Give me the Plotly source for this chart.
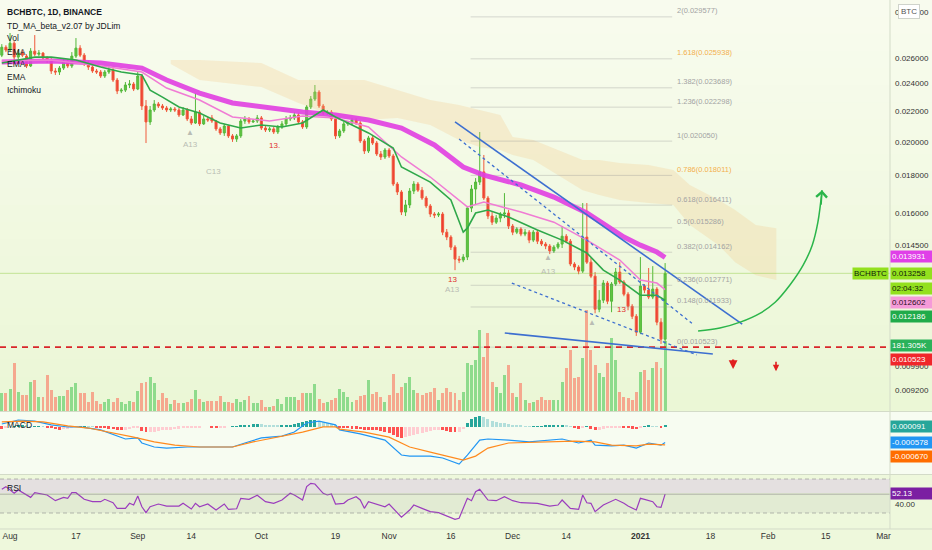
import numpy as np
import pandas as pd
import plotly.graph_objects as go

# ---------------- data ----------------
days = pd.date_range("2020-07-30", periods=162, freq="D")

opens = [0.02624, 0.02690, 0.02666, 0.02724, 0.02608, 0.02641, 0.02616, 0.02536, 0.02657, 0.02632,
         0.02641, 0.02600, 0.02584, 0.02497, 0.02489, 0.02520, 0.02576, 0.02536, 0.02616, 0.02682,
         0.02624, 0.02560, 0.02528, 0.02497, 0.02489, 0.02458, 0.02489, 0.02505, 0.02427, 0.02345,
         0.02352, 0.02390, 0.02397, 0.02360, 0.02458, 0.02238, 0.02129, 0.02210, 0.02252, 0.02238,
         0.02224, 0.02210, 0.02217, 0.02210, 0.02176, 0.02210, 0.02149, 0.02122, 0.02196, 0.02116,
         0.02149, 0.02156, 0.02135, 0.02083, 0.02057, 0.02102, 0.02038, 0.02018, 0.02038, 0.02135,
         0.02149, 0.02129, 0.02135, 0.02156, 0.02089, 0.02076, 0.02083, 0.02063, 0.02096, 0.02116,
         0.02149, 0.02156, 0.02176, 0.02129, 0.02096, 0.02231, 0.02287, 0.02338, 0.02238, 0.02190,
         0.02196, 0.02149, 0.02038, 0.02070, 0.02116, 0.02122, 0.02142, 0.02122, 0.02006, 0.01944,
         0.02025, 0.01993, 0.01926, 0.01908, 0.01950, 0.01914, 0.01753, 0.01710, 0.01606, 0.01642,
         0.01715, 0.01753, 0.01720, 0.01678, 0.01637, 0.01596, 0.01591, 0.01596, 0.01508, 0.01485,
         0.01439, 0.01386, 0.01382, 0.01395, 0.01626, 0.01726, 0.01764, 0.01821, 0.01678, 0.01586,
         0.01556, 0.01576, 0.01596, 0.01601, 0.01537, 0.01508, 0.01523, 0.01499, 0.01508, 0.01471,
         0.01508, 0.01466, 0.01453, 0.01444, 0.01422, 0.01439, 0.01453, 0.01489, 0.01466, 0.01365,
         0.01352, 0.01335, 0.01485, 0.01373, 0.01314, 0.01185, 0.01219, 0.01286, 0.01215, 0.01282,
         0.01331, 0.01290, 0.01242, 0.01196, 0.01159, 0.01103, 0.01274, 0.01258, 0.01231, 0.01262,
         0.01138, 0.01079]
highs = [0.02716, 0.02707, 0.02812, 0.02741, 0.02666, 0.02666, 0.02632, 0.02682, 0.02794, 0.02666,
         0.02649, 0.02616, 0.02600, 0.02520, 0.02536, 0.02600, 0.02592, 0.02649, 0.02768, 0.02707,
         0.02641, 0.02576, 0.02544, 0.02513, 0.02505, 0.02505, 0.02536, 0.02520, 0.02443, 0.02367,
         0.02412, 0.02427, 0.02412, 0.02489, 0.02474, 0.02280, 0.02238, 0.02280, 0.02266, 0.02252,
         0.02238, 0.02231, 0.02231, 0.02224, 0.02231, 0.02224, 0.02169, 0.02330, 0.02210, 0.02169,
         0.02162, 0.02176, 0.02142, 0.02096, 0.02116, 0.02109, 0.02050, 0.02050, 0.02149, 0.02169,
         0.02162, 0.02149, 0.02176, 0.02169, 0.02102, 0.02096, 0.02096, 0.02109, 0.02135, 0.02169,
         0.02176, 0.02196, 0.02190, 0.02142, 0.02245, 0.02309, 0.02390, 0.02352, 0.02252, 0.02210,
         0.02210, 0.02162, 0.02083, 0.02129, 0.02135, 0.02156, 0.02156, 0.02135, 0.02018, 0.02038,
         0.02044, 0.02006, 0.01944, 0.01962, 0.01962, 0.01926, 0.01764, 0.01720, 0.01668, 0.01731,
         0.01769, 0.01764, 0.01737, 0.01689, 0.01647, 0.01606, 0.01606, 0.01606, 0.01523, 0.01494,
         0.01448, 0.01400, 0.01408, 0.01637, 0.01748, 0.01786, 0.02063, 0.01920, 0.01689, 0.01606,
         0.01591, 0.01606, 0.01704, 0.01616, 0.01547, 0.01532, 0.01532, 0.01523, 0.01518, 0.01518,
         0.01518, 0.01476, 0.01462, 0.01453, 0.01448, 0.01462, 0.01537, 0.01499, 0.01476, 0.01373,
         0.01360, 0.01652, 0.01652, 0.01391, 0.01331, 0.01258, 0.01298, 0.01294, 0.01290, 0.01348,
         0.01373, 0.01298, 0.01250, 0.01204, 0.01167, 0.01395, 0.01282, 0.01348, 0.01356, 0.01270,
         0.01152, 0.01369]
lows = [0.02608, 0.02649, 0.02649, 0.02584, 0.02592, 0.02608, 0.02520, 0.02528, 0.02616, 0.02616,
        0.02584, 0.02560, 0.02474, 0.02466, 0.02466, 0.02505, 0.02520, 0.02520, 0.02600, 0.02608,
        0.02536, 0.02505, 0.02482, 0.02474, 0.02443, 0.02443, 0.02474, 0.02412, 0.02323, 0.02330,
        0.02338, 0.02367, 0.02345, 0.02352, 0.02210, 0.01993, 0.02109, 0.02196, 0.02224, 0.02210,
        0.02196, 0.02196, 0.02196, 0.02162, 0.02169, 0.02135, 0.02109, 0.02116, 0.02102, 0.02109,
        0.02129, 0.02122, 0.02070, 0.02044, 0.02038, 0.02025, 0.02000, 0.02000, 0.02025, 0.02116,
        0.02116, 0.02122, 0.02122, 0.02076, 0.02063, 0.02063, 0.02050, 0.02050, 0.02083, 0.02102,
        0.02135, 0.02142, 0.02116, 0.02083, 0.02083, 0.02217, 0.02273, 0.02224, 0.02176, 0.02176,
        0.02135, 0.02018, 0.02025, 0.02057, 0.02102, 0.02109, 0.02109, 0.01993, 0.01926, 0.01932,
        0.01981, 0.01914, 0.01890, 0.01896, 0.01902, 0.01742, 0.01694, 0.01591, 0.01586, 0.01626,
        0.01699, 0.01710, 0.01668, 0.01626, 0.01581, 0.01576, 0.01581, 0.01494, 0.01471, 0.01426,
        0.01339, 0.01369, 0.01373, 0.01382, 0.01606, 0.01642, 0.01748, 0.01668, 0.01571, 0.01542,
        0.01547, 0.01556, 0.01576, 0.01523, 0.01494, 0.01499, 0.01489, 0.01489, 0.01457, 0.01462,
        0.01453, 0.01444, 0.01430, 0.01408, 0.01413, 0.01430, 0.01435, 0.01457, 0.01356, 0.01339,
        0.01322, 0.01327, 0.01365, 0.01306, 0.01170, 0.01174, 0.01208, 0.01204, 0.01174, 0.01274,
        0.01282, 0.01234, 0.01181, 0.01149, 0.01090, 0.01096, 0.01246, 0.01223, 0.01223, 0.01127,
        0.01063, 0.01063]
closes = [0.02690, 0.02666, 0.02724, 0.02608, 0.02641, 0.02624, 0.02536, 0.02657, 0.02632, 0.02641,
          0.02600, 0.02584, 0.02497, 0.02489, 0.02520, 0.02576, 0.02536, 0.02616, 0.02682, 0.02624,
          0.02560, 0.02528, 0.02497, 0.02489, 0.02458, 0.02489, 0.02505, 0.02427, 0.02345, 0.02352,
          0.02390, 0.02397, 0.02360, 0.02458, 0.02238, 0.02129, 0.02210, 0.02252, 0.02238, 0.02224,
          0.02210, 0.02217, 0.02210, 0.02176, 0.02210, 0.02149, 0.02122, 0.02196, 0.02116, 0.02149,
          0.02142, 0.02135, 0.02083, 0.02057, 0.02102, 0.02038, 0.02018, 0.02038, 0.02135, 0.02149,
          0.02129, 0.02135, 0.02156, 0.02089, 0.02076, 0.02083, 0.02063, 0.02096, 0.02116, 0.02149,
          0.02156, 0.02176, 0.02129, 0.02096, 0.02231, 0.02287, 0.02338, 0.02238, 0.02190, 0.02196,
          0.02149, 0.02038, 0.02070, 0.02116, 0.02122, 0.02142, 0.02122, 0.02006, 0.01944, 0.02025,
          0.01993, 0.01926, 0.01908, 0.01950, 0.01914, 0.01753, 0.01710, 0.01606, 0.01642, 0.01715,
          0.01753, 0.01720, 0.01678, 0.01637, 0.01596, 0.01591, 0.01596, 0.01508, 0.01485, 0.01439,
          0.01386, 0.01382, 0.01395, 0.01626, 0.01726, 0.01764, 0.01821, 0.01678, 0.01586, 0.01556,
          0.01576, 0.01596, 0.01601, 0.01537, 0.01508, 0.01523, 0.01499, 0.01508, 0.01471, 0.01508,
          0.01466, 0.01453, 0.01444, 0.01422, 0.01439, 0.01453, 0.01489, 0.01466, 0.01365, 0.01352,
          0.01335, 0.01485, 0.01373, 0.01314, 0.01185, 0.01219, 0.01286, 0.01215, 0.01282, 0.01331,
          0.01290, 0.01242, 0.01196, 0.01159, 0.01103, 0.01274, 0.01258, 0.01231, 0.01262, 0.01138,
          0.01079, 0.013258]

# volume in thousands
volume_k = [47, 47, 57, 124, 49, 41, 41, 75, 80,
            36, 36, 93, 54, 36, 39, 39, 54, 62, 73,
            47, 47, 23, 49, 26, 18, 23, 31, 23, 34,
            23, 18, 26, 23, 52, 73, 75, 88, 73, 28,
            47, 34, 18, 28, 21, 21, 23, 31, 54, 31,
            23, 26, 26, 26, 39, 23, 23, 21, 31, 23,
            28, 39, 21, 21, 28, 10, 10, 13, 31,
            18, 36, 36, 36, 28, 47, 47, 47, 70, 31,
            21, 23, 28, 34, 57,
            49, 36, 23, 28, 39, 41, 80, 44, 49,
            36, 23, 41, 96, 47, 62, 73, 88, 54, 47,
            41, 47, 49, 60, 28, 47, 60, 49, 47, 28,
            49, 124, 119, 132, 210, 140, 202, 75, 62, 47,
            93, 119, 47, 36, 73, 28, 21, 23, 28, 36,
            28, 28, 28, 28, 75, 111, 158, 85, 88,
            137, 262, 158, 119, 98, 88, 124, 189, 132, 49,
            36, 34, 28, 49, 101, 106, 80, 111, 127, 111,
            181.305]

ema_slow_dates = ["2020-07-30", "2020-08-11", "2020-08-23", "2020-09-02", "2020-09-08", "2020-09-16",
                  "2020-09-24", "2020-10-03", "2020-10-11", "2020-10-19", "2020-10-27", "2020-11-04",
                  "2020-11-12", "2020-11-19", "2020-11-24", "2020-12-03", "2020-12-11", "2020-12-19",
                  "2020-12-28", "2021-01-01", "2021-01-05", "2021-01-07"]
ema_slow = [0.02568, 0.02576, 0.02560, 0.02520, 0.02427, 0.02330, 0.02259, 0.02224, 0.02196, 0.02176,
            0.02142, 0.02089, 0.01981, 0.01849, 0.01803, 0.01748, 0.01683, 0.01601, 0.01485, 0.01448,
            0.01417, 0.013931]

ema_fast_dates = ["2020-07-30", "2020-08-11", "2020-08-25", "2020-09-02", "2020-09-08", "2020-09-16",
                  "2020-09-24", "2020-10-03", "2020-10-11", "2020-10-19", "2020-10-27", "2020-11-04",
                  "2020-11-11", "2020-11-16", "2020-11-20", "2020-11-24", "2020-12-03", "2020-12-11",
                  "2020-12-19", "2020-12-27", "2021-01-01", "2021-01-05", "2021-01-07"]
ema_fast = [0.02576, 0.02584, 0.02528, 0.02489, 0.02367, 0.02280, 0.02162, 0.02135, 0.02169, 0.02156,
            0.02096, 0.01908, 0.01792, 0.01704, 0.01632, 0.01657, 0.01606, 0.01556, 0.01471, 0.01382,
            0.01298, 0.01286, 0.012602]

td_dates = ["2020-07-30", "2020-08-07", "2020-08-11", "2020-08-17", "2020-08-23", "2020-08-28",
            "2020-09-02", "2020-09-04", "2020-09-07", "2020-09-11", "2020-09-16", "2020-09-21",
            "2020-09-26", "2020-10-01", "2020-10-06", "2020-10-11", "2020-10-16", "2020-10-19",
            "2020-10-27", "2020-11-02", "2020-11-04", "2020-11-11", "2020-11-16", "2020-11-19",
            "2020-11-20", "2020-11-22", "2020-11-25", "2020-11-30", "2020-12-07", "2020-12-13",
            "2020-12-19", "2020-12-23", "2020-12-27", "2021-01-01", "2021-01-05", "2021-01-07"]
td_line = [0.02560, 0.02608, 0.02608, 0.02584, 0.02528, 0.02489, 0.02466, 0.02352, 0.02301, 0.02231,
           0.02190, 0.02122, 0.02089, 0.02109, 0.02096, 0.02122, 0.02210, 0.02162, 0.02057, 0.01962,
           0.01849, 0.01764, 0.01668, 0.01508, 0.01527, 0.01601, 0.01616, 0.01581, 0.01518, 0.01471,
           0.01413, 0.01339, 0.01298, 0.01238, 0.01238, 0.012186]

cloud_dates = ["2020-09-09", "2020-09-16", "2020-10-01", "2020-10-10", "2020-10-18", "2020-10-26",
               "2020-11-03", "2020-11-11", "2020-11-18", "2020-11-23", "2020-11-28", "2020-12-01",
               "2020-12-06", "2020-12-12", "2020-12-18", "2020-12-22", "2020-12-27", "2021-01-03",
               "2021-01-09", "2021-01-13", "2021-01-20", "2021-01-24", "2021-01-29", "2021-02-03"]
cloud_top = [0.02584, 0.02584, 0.02560, 0.02427, 0.02427, 0.02427, 0.02352, 0.02280, 0.02245, 0.02210,
             0.02176, 0.02031, 0.02012, 0.01950, 0.01890, 0.01890, 0.01873, 0.01861, 0.01832, 0.01748,
             0.01668, 0.01616, 0.01542, 0.01527]
cloud_bottom = [0.02552, 0.02427, 0.02375, 0.02259, 0.02176, 0.02142, 0.02156, 0.02109, 0.02012, 0.01968,
                0.01950, 0.01920, 0.01890, 0.01803, 0.01720, 0.01694, 0.01668, 0.01652, 0.01642, 0.01542,
                0.01448, 0.01373, 0.01318, 0.01298]

fib_levels = ["2", "1.618", "1.382", "1.236", "1", "0.786", "0.618", "0.5", "0.382", "0.236", "0.148", "0"]
fib_prices = [0.029577, 0.025938, 0.023689, 0.022298, 0.020050, 0.018011, 0.016411, 0.015286,
              0.014162, 0.012771, 0.011933, 0.010523]

macd_dates = ["2020-07-30", "2020-08-03", "2020-08-07", "2020-08-11", "2020-08-15", "2020-08-18",
              "2020-08-23", "2020-08-25", "2020-08-29", "2020-09-01", "2020-09-02", "2020-09-05",
              "2020-09-08", "2020-09-13", "2020-09-18", "2020-09-24", "2020-09-27", "2020-10-01",
              "2020-10-06", "2020-10-09", "2020-10-12", "2020-10-15", "2020-10-19", "2020-10-20",
              "2020-10-25", "2020-10-31", "2020-11-04", "2020-11-06", "2020-11-11", "2020-11-14",
              "2020-11-18", "2020-11-20", "2020-11-23", "2020-11-25", "2020-11-30", "2020-12-05",
              "2020-12-13", "2020-12-17", "2020-12-20", "2020-12-21", "2020-12-25", "2020-12-28",
              "2020-12-31", "2021-01-03", "2021-01-06", "2021-01-07"]
macd_line = [0.00011, 0.00026, 0.00022, 0.00008, 0.0, 0.0, -0.00011, -0.00022, -0.00045, -0.00041,
             -0.00060, -0.00075, -0.00079, -0.00075, -0.00075, -0.00075, -0.00060, -0.00041, -0.00034, -0.00019,
             0.00015, 0.00022, 0.00008, -0.00011, -0.00026, -0.00049, -0.00105, -0.00109, -0.00109, -0.00116,
             -0.00139, -0.00105, -0.00049, -0.00045, -0.00049, -0.00056, -0.00045, -0.00060, -0.00049, -0.00068,
             -0.00071, -0.00068, -0.00079, -0.00060, -0.00068, -0.000578]

signal_dates = ["2020-07-30", "2020-08-04", "2020-08-09", "2020-08-15", "2020-08-20", "2020-08-25",
                "2020-08-31", "2020-09-05", "2020-09-10", "2020-09-16", "2020-09-24", "2020-09-29",
                "2020-10-04", "2020-10-11", "2020-10-16", "2020-10-19", "2020-10-20", "2020-10-26",
                "2020-11-01", "2020-11-06", "2020-11-11", "2020-11-19", "2020-11-22", "2020-11-25",
                "2020-11-30", "2020-12-08", "2020-12-16", "2020-12-21", "2020-12-25", "2020-12-31",
                "2021-01-03", "2021-01-07"]
signal_line = [0.00019, 0.00022, 0.00019, 0.00004, -0.00004, -0.00019, -0.00038, -0.00056, -0.00068, -0.00075,
               -0.00075, -0.00056, -0.00041, -0.00019, 0.0, 0.0, -0.00008, -0.00019, -0.00038, -0.00075,
               -0.00094, -0.00124, -0.00109, -0.00079, -0.00060, -0.00056, -0.00053, -0.00056, -0.00068, -0.00071,
               -0.00064, -0.00067]

# daily histogram, units of 1e-5
macd_hist_e5 = [-6, -3, 0, 2, 4, 5, 4, 3, 3, 3,
                1, -2, -5, -8, -10, -9, -6, -3, 0, 2,
                3, 2, 1, -2, -4, -5, -7, -9, -11, -12,
                -12, -9, -5, -2, -14, -19, -18, -17, -15, -13,
                -12, -10, -8, -6, -4, -3, -2, -1, -1, 0,
                0, -1, -2, -2, -1, 0, 1, 2, 4, 6,
                8, 10, 12, 11, 9, 7, 5, 4, 5, 7,
                9, 11, 14, 18, 22, 25, 26, 24, 20, 15,
                10, 4, -3, -4, -5, -6, -7, -9, -10, -11,
                -12, -13, -14, -18, -24, -30, -36, -40, -37, -33,
                -29, -25, -21, -17, -15, -13, -11, -12, -15, -17,
                -19, -19, -8, 15, 28, 38, 42, 36, 30, 24,
                20, 16, 14, 11, 8, 6, 4, 2, 1, 2,
                3, 3, 4, 5, 6, 8, 9, 7, 3, -2,
                -7, -3, 2, -6, -12, -10, -7, -4, -3, -2,
                -1, -2, -4, -6, -8, -4, 1, 4, 3, 1,
                -1, 9.1]

rsi_dates = ["2020-07-30", "2020-07-31", "2020-08-02", "2020-08-03", "2020-08-06", "2020-08-07", "2020-08-10",
             "2020-08-12", "2020-08-14", "2020-08-15", "2020-08-16", "2020-08-17", "2020-08-19", "2020-08-21",
             "2020-08-23", "2020-08-24", "2020-08-26", "2020-08-27", "2020-08-29", "2020-08-30", "2020-08-31",
             "2020-09-01", "2020-09-02", "2020-09-03", "2020-09-04", "2020-09-06", "2020-09-08", "2020-09-11",
             "2020-09-12", "2020-09-14", "2020-09-15", "2020-09-16", "2020-09-18", "2020-09-20", "2020-09-22",
             "2020-09-23", "2020-09-25", "2020-09-26", "2020-09-28", "2020-09-30", "2020-10-02", "2020-10-04",
             "2020-10-06", "2020-10-08", "2020-10-09", "2020-10-11", "2020-10-12", "2020-10-13", "2020-10-14",
             "2020-10-16", "2020-10-17", "2020-10-18", "2020-10-19", "2020-10-20", "2020-10-21", "2020-10-22",
             "2020-10-24", "2020-10-25", "2020-10-26", "2020-10-27", "2020-10-29", "2020-10-31", "2020-11-01",
             "2020-11-03", "2020-11-04", "2020-11-06", "2020-11-07", "2020-11-09", "2020-11-11", "2020-11-13",
             "2020-11-15", "2020-11-17", "2020-11-18", "2020-11-20", "2020-11-21", "2020-11-22", "2020-11-23",
             "2020-11-24", "2020-11-25", "2020-11-27", "2020-11-29", "2020-12-01", "2020-12-03", "2020-12-07",
             "2020-12-10", "2020-12-12", "2020-12-13", "2020-12-15", "2020-12-17", "2020-12-18", "2020-12-19",
             "2020-12-20", "2020-12-21", "2020-12-23", "2020-12-24", "2020-12-26", "2020-12-28", "2020-12-29",
             "2020-12-31", "2021-01-01", "2021-01-02", "2021-01-04", "2021-01-05", "2021-01-06", "2021-01-07"]
rsi_vals = [57.9, 61, 53.2, 57.1, 48.4, 53.9, 51.2,
            44.5, 48.4, 47.3, 53.9, 53.9, 46.1, 43.3,
            43.3, 46.1, 42.1, 35.5, 35.5, 41.4, 39.4,
            50, 37.4, 30.4, 37.4, 40.6, 38.2, 38.2,
            41.4, 34.7, 41.4, 37.4, 40.6, 33.5, 40.6,
            34.3, 35, 47.3, 46.1, 50.8, 43.3, 41.4,
            45.3, 53.2, 51.2, 45.3, 61, 64.9, 64.1,
            53.2, 51.2, 52.4, 40.6, 41.4, 41.4, 45.3,
            49.2, 45.3, 35.5, 43.3, 40.6, 37.4, 40.6,
            30.4, 25, 33.5, 39.4, 35.5, 31.6, 30.4,
            26.5, 22.6, 23.8, 47.3, 44.5, 55.1, 57.9,
            51.2, 45.3, 44.5, 49.2, 44.5, 42.1, 41.4,
            38.2, 39.4, 45.3, 35.5, 34.3, 51.2, 42.1,
            41.4, 31.6, 39.4, 41.4, 46.1, 41.4, 38.2,
            33.5, 47.3, 46.1, 43.3, 37.4, 36.6, 52.13]

# drawings
wedge_top_dates = ["2020-11-17", "2021-01-25 17:00"]
wedge_top = [0.02129, 0.01131]
wedge_bottom_dates = ["2020-11-29 02:00", "2021-01-18 14:00"]
wedge_bottom = [0.01100, 0.01030]
channel_top_dates = ["2020-11-18", "2021-01-13 12:00"]
channel_top = [0.02018, 0.01134]
channel_bottom_dates = ["2020-11-30 19:00", "2021-01-14 17:00"]
channel_bottom = [0.01286, 0.01027]
rebound_dates = ["2021-01-15", "2021-01-20 07:00", "2021-01-25 05:00", "2021-01-30", "2021-02-02 17:00",
                 "2021-02-06 07:00", "2021-02-09 12:00", "2021-02-11 17:00", "2021-02-13 02:00", "2021-02-14 02:00"]
rebound = [0.01107, 0.01117, 0.01138, 0.01170, 0.01211, 0.01278, 0.01360, 0.01448, 0.01556, 0.01720]
support = 0.010523

# ---------------- layout helpers ----------------
FONT = "Liberation Sans, Arial, sans-serif"
W, H = 932, 550
PLOT_H = 529
X_END = 890 / W
X_RANGE = ["2020-07-29 13:30", "2021-03-02 14:00"]
P_LO, P_HI = 0.008618, 0.03118


def py(ypx):
    return 1 - ypx / PLOT_H


def px(xpx):
    return xpx / W


lg = np.log10

fig = go.Figure()

# volume (base axis, drawn under the candles)
vol_colors = ["#8edb8c" if c >= o else "#f5a88e" for o, c in zip(opens, closes)]
fig.add_trace(go.Bar(x=days, y=volume_k, marker_color=vol_colors, marker_line_width=0,
                     width=0.72 * 86400000, xaxis="x", yaxis="y", hoverinfo="skip"))

# candles
fig.add_trace(go.Candlestick(
    x=days, open=opens, high=highs, low=lows, close=closes, xaxis="x", yaxis="y2",
    increasing=dict(line=dict(color="#52b83a", width=1), fillcolor="#62c542"),
    decreasing=dict(line=dict(color="#f05a3c", width=1), fillcolor="#ee3a33"),
    whiskerwidth=0, hoverinfo="skip"))

# ichimoku cloud
fig.add_trace(go.Scatter(x=cloud_dates, y=cloud_top, mode="lines", line=dict(width=0),
                         xaxis="x", yaxis="y2", hoverinfo="skip"))
fig.add_trace(go.Scatter(x=cloud_dates, y=cloud_bottom, mode="lines", line=dict(width=0),
                         fill="tonexty", fillcolor="rgba(245,196,130,0.26)",
                         xaxis="x", yaxis="y2", hoverinfo="skip"))

# fib lines
fx, fy = [], []
for p in fib_prices:
    fx += ["2020-11-20 19:00", "2021-01-08 17:00", None]
    fy += [p, p, None]
fig.add_trace(go.Scatter(x=fx, y=fy, mode="lines", line=dict(color="rgba(150,150,150,0.35)", width=1),
                         xaxis="x", yaxis="y2", hoverinfo="skip"))

# current price line and support
fig.add_trace(go.Scatter(x=X_RANGE, y=[closes[-1]] * 2, mode="lines",
                         line=dict(color="rgba(140,205,60,0.45)", width=1), xaxis="x", yaxis="y2",
                         hoverinfo="skip"))
fig.add_trace(go.Scatter(x=X_RANGE, y=[support] * 2, mode="lines",
                         line=dict(color="#d9262a", width=1.8, dash="6px,5px"), xaxis="x", yaxis="y2",
                         hoverinfo="skip"))

# moving averages
fig.add_trace(go.Scatter(x=ema_slow_dates, y=ema_slow, mode="lines", line=dict(color="#e23fe2", width=5),
                         opacity=0.9, xaxis="x", yaxis="y2", hoverinfo="skip"))
fig.add_trace(go.Scatter(x=ema_fast_dates, y=ema_fast, mode="lines", line=dict(color="#f07cd4", width=1.5),
                         xaxis="x", yaxis="y2", hoverinfo="skip"))
fig.add_trace(go.Scatter(x=td_dates, y=td_line, mode="lines", line=dict(color="#2fa84a", width=1.6),
                         xaxis="x", yaxis="y2", hoverinfo="skip"))

# wedge / channel drawings
for dx, dy, dash in [(wedge_top_dates, wedge_top, "solid"), (wedge_bottom_dates, wedge_bottom, "solid"),
                     (channel_top_dates, channel_top, "dot"), (channel_bottom_dates, channel_bottom, "dot")]:
    fig.add_trace(go.Scatter(x=dx, y=dy, mode="lines",
                             line=dict(color="#3d6fd0", width=1.6 if dash == "solid" else 1.3, dash=dash),
                             xaxis="x", yaxis="y2", hoverinfo="skip"))
fig.add_trace(go.Scatter(x=rebound_dates, y=rebound, mode="lines", line=dict(color="#2bb54a", width=1.5, shape="spline"),
                         xaxis="x", yaxis="y2", hoverinfo="skip"))

# MACD
hist = [v * 1e-5 for v in macd_hist_e5]
hist_colors = []
prev = 0
for v in hist:
    if v >= 0:
        hist_colors.append("#26a69a" if v >= prev else "#b2dfdb")
    else:
        hist_colors.append("#ff5252" if v < prev else "#ffcdd2")
    prev = v
fig.add_trace(go.Bar(x=days, y=hist, marker_color=hist_colors, marker_line_width=0, width=0.72 * 86400000,
                     xaxis="x", yaxis="y3", hoverinfo="skip"))
fig.add_trace(go.Scatter(x=macd_dates, y=macd_line, mode="lines", line=dict(color="#2196f3", width=1.2),
                         xaxis="x", yaxis="y3", hoverinfo="skip"))
fig.add_trace(go.Scatter(x=signal_dates, y=signal_line, mode="lines", line=dict(color="#ff8a1e", width=1.2),
                         xaxis="x", yaxis="y3", hoverinfo="skip"))

# RSI
fig.add_trace(go.Scatter(x=rsi_dates, y=rsi_vals, mode="lines", line=dict(color="#9b3dbd", width=1.2),
                         xaxis="x", yaxis="y4", hoverinfo="skip"))

# ---------------- backgrounds and separators ----------------
shapes = []
top_rgb = np.array([249, 252, 239])
bot_rgb = np.array([235, 247, 214])
n_bands = 24
for i in range(n_bands):
    c = top_rgb + (bot_rgb - top_rgb) * (i + 0.5) / n_bands
    shapes.append(dict(type="rect", xref="paper", yref="paper", x0=0, x1=1,
                       y0=py(411 * (i + 1) / n_bands), y1=py(411 * i / n_bands) + 0.001,
                       fillcolor="rgb(%d,%d,%d)" % tuple(c.astype(int)), line_width=0, layer="below"))
shapes.append(dict(type="rect", xref="paper", yref="paper", x0=0, x1=1, y0=py(474), y1=py(411),
                   fillcolor="#f7fcf1", line_width=0, layer="below"))
shapes.append(dict(type="rect", xref="paper", yref="paper", x0=0, x1=1, y0=0, y1=py(474),
                   fillcolor="#eef8dc", line_width=0, layer="below"))
shapes.append(dict(type="rect", xref="paper", yref="y4", x0=0, x1=X_END, y0=53.5, y1=70,
                   fillcolor="rgba(205,170,235,0.30)", line_width=0, layer="below"))
shapes.append(dict(type="rect", xref="paper", yref="y4", x0=0, x1=X_END, y0=30, y1=53.5,
                   fillcolor="rgba(170,170,170,0.16)", line_width=0, layer="below"))
for lvl in (30, 70):
    shapes.append(dict(type="line", xref="paper", yref="y4", x0=0, x1=X_END, y0=lvl, y1=lvl,
                       line=dict(color="rgba(140,140,140,0.6)", width=1, dash="4px,3px")))
shapes.append(dict(type="line", xref="paper", yref="y4", x0=0, x1=X_END, y0=52.13, y1=52.13,
                   line=dict(color="rgba(130,130,130,0.55)", width=1)))
for ypx in (411.5, 474.5, 529):
    shapes.append(dict(type="line", xref="paper", yref="paper", x0=0, x1=1, y0=py(ypx), y1=py(ypx),
                       line=dict(color="#d3dbc8", width=1)))
shapes.append(dict(type="line", xref="paper", yref="paper", x0=X_END, x1=X_END, y0=0, y1=1,
                   line=dict(color="#d3dbc8", width=1)))

# ---------------- annotations ----------------
ann = []
legend_lines = [("<b>BCHBTC, 1D, BINANCE</b>", 12), ("TD_MA_beta_v2.07 by JDLim", 26), ("Vol", 38),
                ("EMA", 52), ("EMA", 64), ("EMA", 77), ("Ichimoku", 90)]
for txt, ypx in legend_lines:
    ann.append(dict(text=txt, x=px(5), y=py(ypx), xref="paper", yref="paper", xanchor="left",
                    yanchor="middle", showarrow=False, font=dict(family=FONT, size=8.5, color="#131722")))
ann.append(dict(text="MACD", x=px(5), y=py(425), xref="paper", yref="paper", xanchor="left",
                yanchor="middle", showarrow=False, font=dict(family=FONT, size=8.5, color="#131722")))
ann.append(dict(text="RSI", x=px(5), y=py(488), xref="paper", yref="paper", xanchor="left",
                yanchor="middle", showarrow=False, font=dict(family=FONT, size=8.5, color="#131722")))

for lvl, p in zip(fib_levels, fib_prices):
    col = "#f3b04e" if lvl in ("1.618", "0.786") else "#a3a3a3"
    ann.append(dict(text="%s(%.6f)" % (lvl, p), x="2021-01-09 10:00", y=lg(p), xref="x", yref="y2",
                    xanchor="left", yanchor="middle", yshift=6, showarrow=False,
                    font=dict(family=FONT, size=7.5, color=col)))


# right-axis value labels
def tag(text, y, yref, bg, fg="white", shift=0, right=False):
    ann.append(dict(text=text, x=X_END if not right else X_END - 0.001, y=y, xref="paper", yref=yref,
                    xanchor="right" if right else "left", yanchor="middle", yshift=shift,
                    showarrow=False, bgcolor=bg, borderpad=1, width=None if right else 39,
                    align="left", font=dict(family=FONT, size=8, color=fg)))


tag("0.013931", lg(ema_slow[-1]), "y2", "#e040e8", shift=1)
tag("0.013258", lg(closes[-1]), "y2", "#93e01e", fg="#10220a")
tag("BCHBTC", lg(closes[-1]), "y2", "#93e01e", fg="#10220a", right=True)
tag("02:04:32", lg(closes[-1]), "y2", "#93e01e", fg="#10220a", shift=-15)
tag("0.012602", lg(ema_fast[-1]), "y2", "#f59ad8", fg="#2a1020", shift=-12.5)
tag("0.012186", lg(td_line[-1]), "y2", "#20ab4a", shift=-16)
tag("181.305K", volume_k[-1], "y", "#2bb25a", shift=-4)
tag("0.010523", lg(support), "y2", "#f0262b", shift=-12)
tag("0.000091", hist[-1], "y3", "#26a69a", shift=-1.5)
tag("-0.000578", macd_line[-1], "y3", "#2196f3")
tag("-0.000670", signal_line[-1], "y3", "#ff6d00", shift=-12)
tag("52.13", rsi_vals[-1], "y4", "#7b1fa2", shift=1)

ann.append(dict(text="BTC", x=px(909), y=py(12), xref="paper", yref="paper", showarrow=False,
                xanchor="center", yanchor="middle",
                bgcolor="white", bordercolor="#cfd3cb", borderwidth=1, borderpad=2,
                font=dict(family=FONT, size=8, color="#555")))

# arrows
ann.append(dict(x=rebound_dates[-1], y=lg(rebound[-1]), xref="x", yref="y2", ax=-1, ay=16,
                showarrow=True, arrowhead=4, arrowsize=1.4, arrowwidth=1.5, arrowcolor="#2bb54a", text=""))
for d, p, w in [("2021-01-23 12:00", 0.009826, 2.2), ("2021-02-02 22:00", 0.009763, 1.6)]:
    ann.append(dict(x=d, y=lg(p), xref="x", yref="y2", ax=0, ay=-11, showarrow=True, arrowhead=2,
                    arrowsize=0.8, arrowwidth=w, arrowcolor="#e0201f", text=""))

# TD sequential marks
td_marks = [("▲", "2020-09-13 17:00", 0.02057, "#b9bdb4"), ("A13", "2020-09-13 17:00", 0.01981, "#b9bdb4"),
            ("C13", "2020-09-19 07:00", 0.01826, "#b9bdb4"), ("13.", "2020-10-04 07:00", 0.01975, "#e0312c"),
            ("13", "2020-11-16 12:00", 0.01302, "#e0312c"), ("A13", "2020-11-16 12:00", 0.01262, "#b9bdb4"),
            ("▲", "2020-12-09 14:00", 0.01395, "#b9bdb4"), ("A13", "2020-12-09 14:00", 0.01335, "#b9bdb4"),
            ("▲", "2020-12-20 07:00", 0.01138, "#b9bdb4"), ("13", "2020-12-27 07:00", 0.01185, "#e0312c")]
for t, d, p, c in td_marks:
    ann.append(dict(text=t, x=d, y=lg(p), xref="x", yref="y2", showarrow=False,
                    font=dict(family=FONT, size=8, color=c)))

# price ticks that are not fully hidden behind the value tags
price_ticks = [0.0092, 0.0099, 0.0145, 0.016, 0.018, 0.020, 0.022, 0.024, 0.026, 0.030]

fig.update_layout(
    width=W, height=H, margin=dict(l=0, r=0, t=0, b=H - PLOT_H),
    paper_bgcolor="#eef8dc", plot_bgcolor="rgba(0,0,0,0)", showlegend=False,
    bargap=0, shapes=shapes, annotations=ann,
    xaxis=dict(type="date", range=X_RANGE, domain=[0, X_END], anchor="y4", showgrid=False,
               zeroline=False, showline=False, ticks="", rangeslider=dict(visible=False),
               tickvals=["2020-08-01", "2020-08-17", "2020-09-01", "2020-09-14", "2020-10-01", "2020-10-19",
                         "2020-11-01", "2020-11-16", "2020-12-01", "2020-12-14", "2021-01-01", "2021-01-18",
                         "2021-02-01", "2021-02-15", "2021-03-01"],
               ticktext=["Aug", "17", "Sep", "14", "Oct", "19", "Nov", "16", "Dec", "14", "<b>2021</b>", "18",
                         "Feb", "15", "Mar"],
               tickfont=dict(family=FONT, size=8.5, color="#333"), automargin=False),
    yaxis=dict(domain=[py(411), 1], range=[0, 1064.5], visible=False, fixedrange=True),
    yaxis2=dict(overlaying="y", side="right", anchor="x", type="log", range=[lg(P_LO), lg(P_HI)],
                tickvals=price_ticks, ticktext=["%.6f" % t for t in price_ticks], showgrid=False,
                zeroline=False, ticks="", ticklabelstandoff=4,
                tickfont=dict(family=FONT, size=8, color="#333"), automargin=False),
    yaxis3=dict(domain=[py(474), py(412)], range=[-0.00176, 0.00056], visible=False, anchor="x"),
    yaxis4=dict(domain=[0, py(475)], range=[11.2, 74.7], anchor="x", side="right", tickvals=[40],
                ticktext=["40.00"], showgrid=False, zeroline=False, ticks="", ticklabelstandoff=4,
                tickfont=dict(family=FONT, size=8, color="#333"), automargin=False),
)

fig.write_html("out.html", config={"displayModeBar": False},
               post_script="document.body.style.margin='0';document.body.style.padding='0';")
